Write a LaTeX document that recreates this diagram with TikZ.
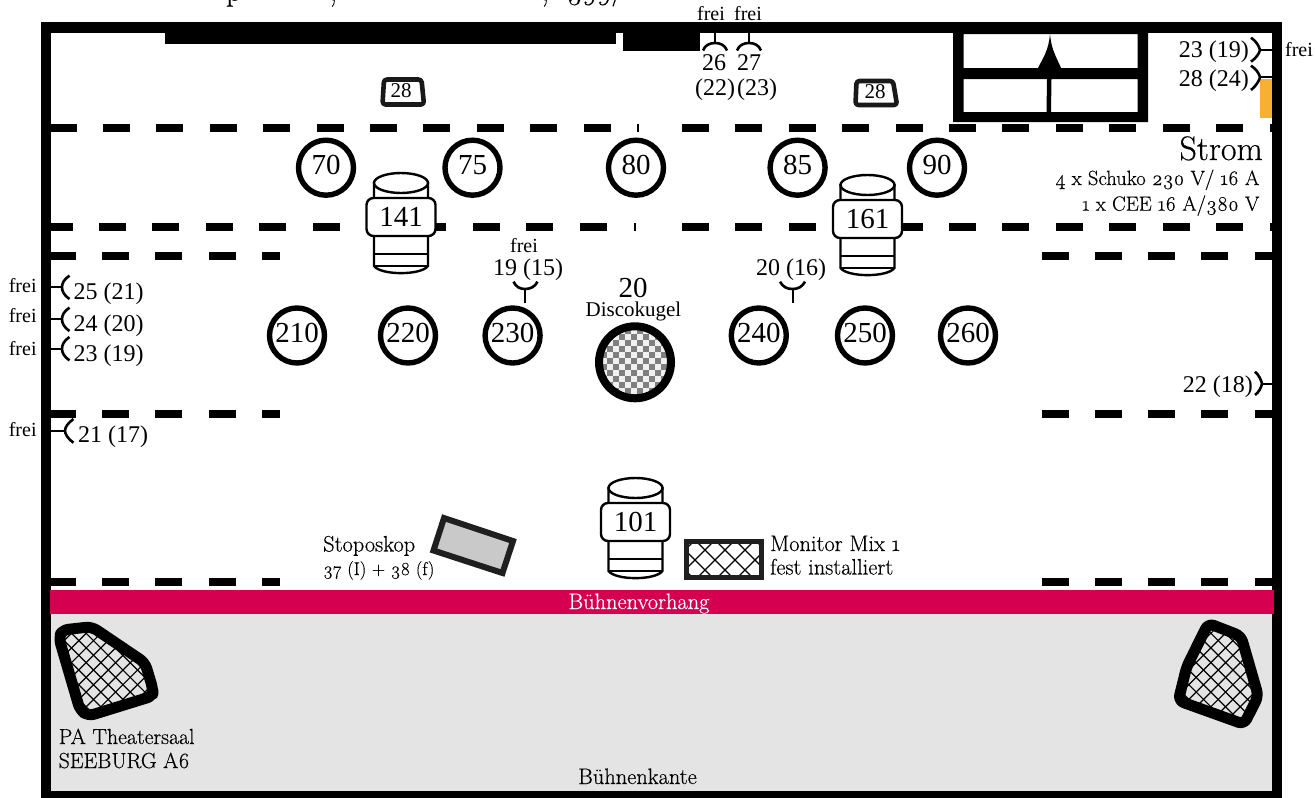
\documentclass[tikz,border=0pt]{standalone}
\usepackage{fontspec}
\setmainfont{Liberation Serif}
\newfontfamily\gar[Numbers=OldStyle,FakeBold=0.35]{Latin Modern Roman}
\newcommand{\fsz}[1]{\fontsize{#1}{#1}\selectfont}
\definecolor{curtainred}{HTML}{D50050}
\definecolor{powerbox}{HTML}{F7B032}
\definecolor{floorgrey}{HTML}{E4E4E4}
\tikzset{
  wall/.style={fill=black},
  dashbar/.style={fill=black},
  spot/.style={circle,draw=black,line width=5.4pt,fill=white,minimum size=55pt,inner sep=0pt,font=\fsz{29},text height=18pt,text depth=3.5pt},
  cylline/.style={draw=black,line width=2.4pt,fill=white},
  cylbox/.style={draw=black,line width=2.4pt,fill=white,rounded corners=7pt,minimum width=69pt,minimum height=38pt,inner sep=0pt,font=\fsz{29}},
  plug/.style={draw=black,line width=2.6pt},
  stem/.style={draw=black,line width=2pt},
  lab/.style={anchor=base,inner sep=0pt,font=\fsz{24}},
  labr/.style={anchor=base east,inner sep=0pt,font=\fsz{24}},
  labl/.style={anchor=base west,inner sep=0pt,font=\fsz{24}},
  frei/.style={anchor=base,inner sep=0pt,font=\fsz{20}},
  gara/.style={anchor=base west,inner sep=0pt,font=\gar\fsz{22.4}},
  hatchline/.style={draw=black,line width=1.2pt},
  speaker/.style={draw=black,line width=11pt,rounded corners=6pt,line join=round},
  minibox/.style={draw=black!90,line width=4.6pt,rounded corners=3pt,fill=white,line join=round},
}
\newcommand{\cyl}[4]{% name, x, y, label
  \draw[cylline] (#2-27,#3) -- (#2-27,#3+83) .. controls (#2-20,#3+92.5) and (#2+20,#3+92.5) .. (#2+27,#3+83) -- (#2+27,#3) -- cycle;
  \draw[cylline] (#2,#3) ellipse [x radius=27,y radius=10];
  \draw[draw=black,line width=2.4pt] (#2-27,#3+71) -- (#2+27,#3+71) (#2-27,#3+83) -- (#2+27,#3+83);
  \node[cylbox] (#1) at (#2,#3+34) {#4};
}
\newcommand{\darow}[1]{% y of a short row
  \foreach \x/\w in {51/25,102/27,155/27,209/27,262/18,1042/27,1095/27,1148/27,1201/27,1255/18}
    \fill[dashbar] (\x,#1-4) rectangle ++(\w,8);
}
\begin{document}
\begin{tikzpicture}[x=1pt,y=-1pt]
\useasboundingbox (0,0) rectangle (1315,798);
\fill[white] (0,0) rectangle (1315,798);

% cut-off title line
\node[anchor=base,inner sep=0pt,font=\gar\fsz{32}] (t1) at (234,0.5) {p};
\node[anchor=base,inner sep=0pt,font=\gar\fsz{32}] (t2) at (333,0.5) {,};
\node[anchor=base,inner sep=0pt,font=\gar\fsz{32}] (t3) at (545,0.5) {,};
\node[anchor=base west,inner sep=0pt,font=\gar\fsz{28}] (t4) at (567,-0.5) {399/};

% stage floor and power box
\fill[floorgrey] (51,614) rectangle (1272,791);
\fill[powerbox] (1260,79) rectangle (1273,118);

% dashed rows
\fill[dashbar] (51,124) rectangle (76.5,132);
\foreach \x in {103,156.4,...,590}
  \fill[dashbar] (\x,124) rectangle ++(27,8);
\fill[dashbar] (637,124) rectangle ++(2,8);
\foreach \x in {682,735.4,...,1225}
  \fill[dashbar] (\x,124) rectangle ++(27,8);
\fill[dashbar] (1270,124) rectangle (1273,132);

\fill[dashbar] (51,222.5) rectangle (72.5,230.5);
\foreach \x in {99,152.4,...,590}
  \fill[dashbar] (\x,222.5) rectangle ++(27,8);
\fill[dashbar] (633.5,222.5) rectangle ++(2,8);
\foreach \x in {682,735.4,...,1225}
  \fill[dashbar] (\x,222.5) rectangle ++(27,8);
\fill[dashbar] (1270,222.5) rectangle (1273,230.5);

\darow{256}
\darow{414}
\darow{582}

% walls
\fill[wall] (41,22) rectangle (1282,33);
\fill[wall] (41,22) rectangle (51,798);
\fill[wall] (1272,22) rectangle (1282,798);
\fill[wall] (41,791) rectangle (1282,798);
\fill[wall] (165,33) rectangle (616,44);
\fill[wall] (623,33) rectangle (700,51);

% window
\fill[wall,even odd rule] (953,33) rectangle (1148,122)
  (963.5,34) rectangle (1137.5,68) (963.5,79) rectangle (1137.5,112);
\fill[wall] (1050,33) .. controls (1051,50) and (1057,58) .. (1061,68) -- (1038,68) .. controls (1043,58) and (1049,50) .. (1050,33) -- cycle;
\fill[wall] (1047,79) -- (1051.5,79) -- (1051,112) -- (1046.5,112) -- cycle;

% curtain
\fill[curtainred] (50,590) rectangle (1274,614);
\node[anchor=base,inner sep=0pt,text=white,font=\gar\fsz{22.4}] (curtain) at (639,609) {Bühnenvorhang};

% small boxes
\draw[minibox] (384,79.5) -- (421.5,79.5) -- (424,104.5) -- (382.5,104.5) -- cycle;
\node[inner sep=0pt,font=\fsz{21}] (m28a) at (401,91) {28};
\draw[minibox] (856.5,81) -- (893,81) -- (897,105) -- (855.5,105) -- cycle;
\node[inner sep=0pt,font=\fsz{21}] (m28b) at (875,92) {28};

% spots
\foreach \n/\x/\y in {70/326/167.7,75/472.5/167.7,80/636/167.7,85/797.6/167.7,90/937/167.7,
  210/297/335.5,220/408/335.5,230/512.6/335.5,240/758.8/335.5,250/865/335.5,260/968/335.5}
  \node[spot] (s\n) at (\x,\y) {\n};

% disco ball
\begin{scope}
  \clip (635,362.3) circle [radius=36];
  \fill[black!6] (595,322) rectangle (675,402);
  \foreach \i in {0,12,...,84}
    \foreach \j in {0,12,...,84}
      {\fill[black!50] (595+\i,322+\j) rectangle ++(6,6);
       \fill[black!50] (601+\i,328+\j) rectangle ++(6,6);}
\end{scope}
\draw[black,line width=8pt] (635,362.3) circle [radius=36];
\node[anchor=base,inner sep=0pt,font=\fsz{29}] (disco) at (633,297) {20};
\node[anchor=base,inner sep=0pt,font=\fsz{21}] (discol) at (633.5,316) {Discokugel};

% fixtures
\cyl{f141}{401}{183}{141}
\cyl{f161}{867.5}{185}{161}
\cyl{f101}{635.5}{488}{101}

% stoposkop
\draw[draw=black!88,line width=6pt,fill=black!21,line join=miter]
  (444,518) -- (513,541) -- (502.5,573) -- (433.5,550.5) -- cycle;
\node[gara] (st1) at (323,551.5) {Stoposkop};
\node[gara,font=\gar\fsz{18.4}] (st2) at (323,575) {37 (I) + 38 (f)};

% monitor
\begin{scope}
  \clip (686,541) rectangle (762,578);
  \foreach \d in {-40,-20,...,120}
    {\draw[hatchline] (690+\d,535) -- ++(50,50);
     \draw[hatchline] (690+\d,585) -- ++(50,-50);}
\end{scope}
\draw[draw=black!88,line width=5pt] (686.5,541.2) rectangle (761.7,577.5);
\node[gara] (mon1) at (770,551) {Monitor Mix 1};
\node[gara] (mon2) at (770,574.5) {fest installiert};

% PA left
\fill[floorgrey] (91.7,626.7) -- (145,662.7) -- (152.7,688.3) -- (153,696) -- (88.3,716) -- (80,710) -- (59,638.3) -- (62,630) -- cycle;
\begin{scope}
  \clip (91.7,626.7) -- (145,662.7) -- (152.7,688.3) -- (153,696) -- (88.3,716) -- (80,710) -- (59,638.3) -- (62,630) -- cycle;
  \foreach \d in {-90,-75.3,...,130}
    {\draw[hatchline] (50+\d,610) -- ++(120,120);
     \draw[hatchline] (50+\d,730) -- ++(120,-120);}
\end{scope}
\draw[speaker] (91.7,626.7) -- (145,662.7) -- (152.7,688.3) -- (153,696) -- (88.3,716) -- (80,710) -- (59,638.3) -- (62,630) -- cycle;
\node[gara,font=\gar\fsz{21.8}] (pa1) at (58.5,744) {PA Theatersaal};
\node[gara,font=\gar\fsz{21.8}] (pa2) at (58.5,768) {SEEBURG A6};

% PA right
\fill[floorgrey] (1208.3,623.3) -- (1241,636) -- (1258.3,696) -- (1244,724.3) -- (1178.3,700.7) -- (1186.7,666.7) -- cycle;
\begin{scope}
  \clip (1208.3,623.3) -- (1241,636) -- (1258.3,696) -- (1244,724.3) -- (1178.3,700.7) -- (1186.7,666.7) -- cycle;
  \foreach \d in {-90,-75.3,...,130}
    {\draw[hatchline] (1160+\d,610) -- ++(120,120);
     \draw[hatchline] (1160+\d,730) -- ++(120,-120);}
\end{scope}
\draw[speaker] (1208.3,623.3) -- (1241,636) -- (1258.3,696) -- (1244,724.3) -- (1178.3,700.7) -- (1186.7,666.7) -- cycle;

\node[anchor=base,inner sep=0pt,font=\gar\fsz{22.4}] (edge) at (637.5,784) {Bühnenkante};

% connectors, top wall
\coordinate (w26) at (715,33); \coordinate (a26) at (715,43);
\draw[stem] (w26) -- (a26);
\draw[plug] (703,50.5) .. controls (705,45) and (710,43) .. (a26) .. controls (720,43) and (725,45) .. (727,50.5);
\coordinate (w27) at (749,33); \coordinate (a27) at (749,43);
\draw[stem] (w27) -- (a27);
\draw[plug] (737,50.5) .. controls (739,45) and (744,43) .. (a27) .. controls (754,43) and (759,45) .. (761,50.5);
\node[frei] (f26) at (711,20.5) {frei};
\node[frei] (f27) at (748,20.5) {frei};
\node[lab] (l26) at (714,70) {26};
\node[lab] (l27) at (749,70) {27};
\node[lab] (l22) at (715,95) {(22)};
\node[lab] (l23) at (757,95) {(23)};

% connectors, floor
\coordinate (a19) at (525.2,289); \coordinate (b19) at (525.2,303);
\draw[stem] (a19) -- (b19);
\draw[plug] (513.5,281.7) .. controls (516,287) and (520,289) .. (a19) .. controls (530,289) and (535,287) .. (537.5,281.7);
\node[frei] (f19) at (524,252.7) {frei};
\node[lab] (l19) at (528,275) {19 (15)};
\coordinate (a20) at (792.5,289); \coordinate (b20) at (792.5,303);
\draw[stem] (a20) -- (b20);
\draw[plug] (780,281.7) .. controls (783,287) and (787,289) .. (a20) .. controls (798,289) and (802,287) .. (805,281.7);
\node[lab] (l20) at (791,275) {20 (16)};

% connectors, left wall
\foreach \i/\y/\t/\f/\b in {25/287.3/25 (21)/292.7/299,24/319.3/24 (20)/322/331.7,23/348.7/23 (19)/355.7/361}
  {\coordinate (wl\i) at (51,\y); \coordinate (al\i) at (62,\y);
   \draw[stem] (wl\i) -- (al\i);
   \draw[plug] (69.5,\y-11.7) .. controls (64,\y-8) and (62,\y-4) .. (al\i) .. controls (62,\y+4) and (64,\y+8) .. (69.5,\y+11.7);
   \node[labl] (ll\i) at (73.5,\b) {\t};
   \node[frei] (fl\i) at (22.7,\f) {frei};}
\coordinate (wl21) at (51,430.7); \coordinate (al21) at (65,430.7);
\draw[stem] (wl21) -- (al21);
\draw[plug] (73.5,419) .. controls (68,423) and (65,427) .. (al21) .. controls (65,434) and (68,439) .. (73.5,442.7);
\node[labl] (l21) at (78,442.7) {21 (17)};
\node[frei] (f21) at (22.7,436) {frei};

% connectors, right wall
\coordinate (wr23) at (1272,50); \coordinate (ar23) at (1260,50);
\coordinate (wr28) at (1272,77.3); \coordinate (ar28) at (1260,77.3);
\coordinate (wr22) at (1272,383.7); \coordinate (ar22) at (1262,383.7);
\draw[stem] (wr23) -- (ar23);
\draw[plug] (1251,37.7) .. controls (1256,41) and (1259,46) .. (ar23) .. controls (1259,54) and (1256,58) .. (1251,61.7);
\node[labr] (r23) at (1249,57) {23 (19)};
\node[frei] (f23r) at (1299,56.7) {frei};
\draw[stem] (wr28) -- (ar28);
\draw[plug] (1251,65.7) .. controls (1256,69) and (1259,73) .. (ar28) .. controls (1259,81) and (1256,86) .. (1251,90);
\node[labr] (r28) at (1249,86) {28 (24)};
\draw[stem] (wr22) -- (ar22);
\draw[plug] (1255,371.7) .. controls (1259,375) and (1261,380) .. (ar22) .. controls (1261,388) and (1259,392) .. (1255,395);
\node[labr] (r22) at (1253,392) {22 (18)};

% strom
\node[anchor=base east,inner sep=0pt,font=\gar\fsz{34}] (strom) at (1263,160) {Strom};
\node[anchor=base east,inner sep=0pt,font=\gar\fsz{20.6}] (str1) at (1259.5,185) {4 x Schuko 230 V/ 16 A};
\node[anchor=base east,inner sep=0pt,font=\gar\fsz{20.6}] (str2) at (1259.5,210.7) {1 x CEE 16 A/380 V};
\end{tikzpicture}
\end{document}
